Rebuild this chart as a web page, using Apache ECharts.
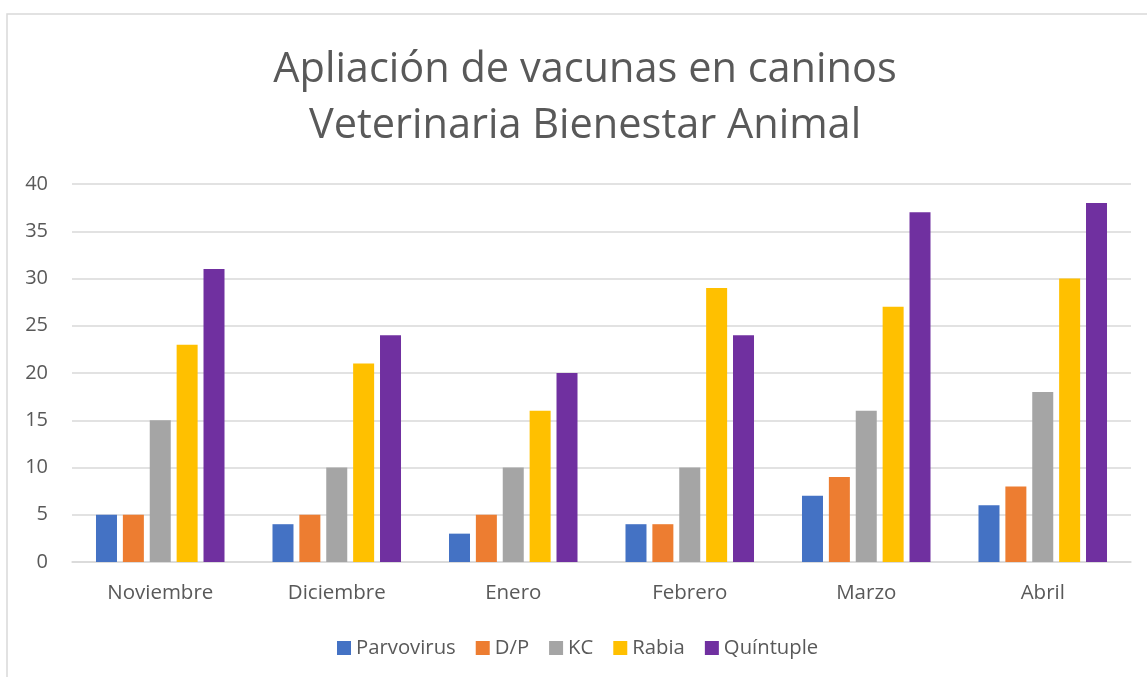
<!DOCTYPE html>
<html>
<head>
<meta charset="utf-8">
<script src="https://cdn.jsdelivr.net/npm/echarts@6/dist/echarts.min.js"></script>
<style>
html,body{margin:0;padding:0;background:#fff;}
#chart{width:1147px;height:677px;}
</style>
</head>
<body>
<div id="chart"></div>
<script>
const categories = ['Noviembre', 'Diciembre', 'Enero', 'Febrero', 'Marzo', 'Abril'];
const parvovirus = [5, 4, 3, 4, 7, 6];
const dp = [5, 5, 5, 4, 9, 8];
const kc = [15, 10, 10, 10, 16, 18];
const rabia = [23, 21, 16, 29, 27, 30];
const quintuple = [31, 24, 20, 24, 37, 38];
const seriesNames = ['Parvovirus', 'D/P', 'KC', 'Rabia', 'Quíntuple'];
const seriesData = [parvovirus, dp, kc, rabia, quintuple];
const colors = ['#4472C4', '#ED7D31', '#A5A5A5', '#FFC000', '#7030A0'];
const titleLines = ['Apliación de vacunas en caninos', 'Veterinaria Bienestar Animal'];

const FONT = 'Open Sans';
const chart = echarts.init(document.getElementById('chart'));
chart.setOption({
  animation: false,
  backgroundColor: '#ffffff',
  color: colors,
  graphic: [{
    type: 'rect',
    shape: { x: 7, y: 14, width: 1200, height: 700 },
    style: { fill: 'none', stroke: '#D9D9D9', lineWidth: 1.5 },
    silent: true
  }],
  title: {
    text: titleLines.join('\n'),
    left: 580, textAlign: 'center', top: 37,
    textStyle: { fontFamily: FONT, fontSize: 41.5, fontWeight: 'normal', color: '#595959', lineHeight: 56 }
  },
  legend: {
    data: seriesNames,
    left: 332, top: 633,
    itemWidth: 14, itemHeight: 14, itemGap: 20,
    icon: 'rect',
    textStyle: { fontFamily: FONT, fontSize: 20.3, color: '#595959' }
  },
  grid: { left: 72, right: 16, top: 184, bottom: 115, containLabel: false },
  xAxis: {
    type: 'category', data: categories,
    axisLine: { lineStyle: { color: '#D9D9D9', width: 1.5 } },
    axisTick: { show: false },
    axisLabel: { fontFamily: FONT, fontSize: 20.5, color: '#595959', margin: 21 }
  },
  yAxis: {
    type: 'value', min: 0, max: 40, interval: 5,
    axisLine: { show: false }, axisTick: { show: false },
    splitLine: { lineStyle: { color: '#D9D9D9', width: 1.5 } },
    axisLabel: { fontFamily: FONT, fontSize: 20, color: '#595959', margin: 24 }
  },
  series: seriesNames.map((n, i) => ({
    name: n, type: 'bar', data: seriesData[i],
    barWidth: 21, barGap: '28%',
    itemStyle: { color: colors[i] }
  }))
});
</script>
</body>
</html>
